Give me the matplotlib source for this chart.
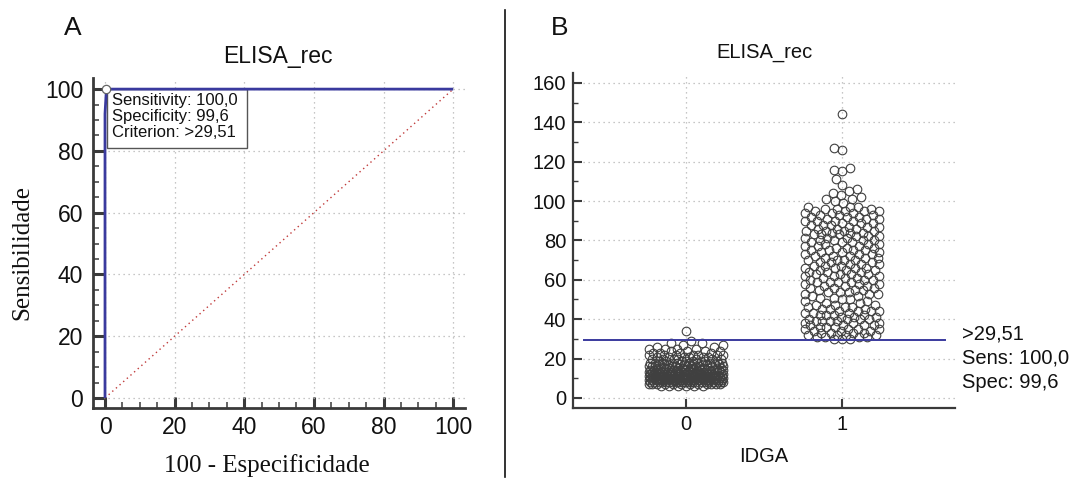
import numpy as np
import matplotlib

matplotlib.use("Agg")
import matplotlib.pyplot as plt
from matplotlib.lines import Line2D
from matplotlib.patches import Rectangle
from matplotlib.ticker import MultipleLocator

W, H = 1083, 479
_INK = "#111111"
_AXIS = "#3a3a3a"
_GRID = "#b4b4b4"
_BLUE = "#3a3a9e"
_RED = "#c03a3a"

# ROC curve (panel A)
roc_fpr = [0.0, 0.0, 0.4, 100.0]
roc_tpr = [0.0, 92.0, 100.0, 100.0]
sensitivity = 100.0
specificity = 99.6
criterion = 29.51

# dot plot (panel B): frequency tables, 1-unit resolution
g0_levels = [6, 7, 8, 9, 10, 11, 12, 13, 14, 15, 16, 17, 18, 19, 20, 21, 22, 23, 24, 25,
             26, 27, 28, 29, 34]
g0_counts = [6, 12, 22, 26, 26, 24, 20, 18, 14, 12, 11, 10, 9, 8, 7, 6, 7, 4, 4, 4,
             2, 2, 2, 1, 1]
g1_levels = list(range(30, 98)) + [99, 100, 101, 102, 103, 104, 105, 106, 108, 111,
                                   115, 116, 117, 126, 127, 144]
g1_counts = [3, 4, 4, 4, 3, 4, 3, 4, 3, 4,   # 30-39
             4, 3, 4, 3, 4, 3, 3, 3, 2, 2,   # 40-49
             2, 2, 2, 3, 3, 3, 3, 3, 3, 4,   # 50-59
             3, 3, 3, 4, 3, 3, 4, 3, 3, 3,   # 60-69
             4, 3, 3, 3, 3, 4, 3, 3, 3, 3,   # 70-79
             4, 3, 3, 3, 3, 4, 3, 3, 3, 3,   # 80-89
             4, 3, 3, 3, 3, 4, 3, 3,         # 90-97
             1, 1, 2, 1, 1, 1, 1, 1, 1, 1,
             1, 1, 1, 1, 1, 1]
groups = ["0", "1"]


def comma(v, nd):
    return f"{v:.{nd}f}".replace(".", ",")


def px(x, y):
    return x / W, 1 - y / H


def swarm_offsets(vals, half_w, diam, sx, sy):
    """Greedy beeswarm: nearest-to-centre free slot, else the slot with most clearance."""
    cand = np.linspace(-half_w, half_w, 81) * sx
    placed_x, placed_y, out = [], [], []
    for v in vals:
        yi = v * sy
        d = np.full(cand.size, np.inf)
        if placed_x:
            ax_ = np.array(placed_x)
            ay_ = np.array(placed_y)
            near = np.abs(ay_ - yi) < diam
            if near.any():
                dx = cand[:, None] - ax_[near][None, :]
                dy = yi - ay_[near]
                d = np.sqrt(dx ** 2 + dy[None, :] ** 2).min(axis=1)
        ok = d >= diam
        if ok.any():
            idx = np.flatnonzero(ok)[np.argmin(np.abs(cand[ok]))]
        else:
            idx = int(np.argmax(d))
        placed_x.append(cand[idx])
        placed_y.append(yi)
        out.append(cand[idx] / sx)
    return np.array(out)


plt.rcParams["font.family"] = ["Liberation Sans", "DejaVu Sans"]
fig = plt.figure(figsize=(W / 100, H / 100), dpi=100)
fig.patch.set_facecolor("white")

# ---------------- panel A ----------------
axa = fig.add_axes([93 / W, 1 - 408 / H, (465 - 93) / W, (408 - 78) / H])
axa.set_xlim(-3.45, 103.4)
axa.set_ylim(-3.24, 103.6)
for side in ("top", "right"):
    axa.spines[side].set_visible(False)
for side in ("left", "bottom"):
    axa.spines[side].set_color(_AXIS)
    axa.spines[side].set_linewidth(2.0)
axa.xaxis.set_major_locator(MultipleLocator(20))
axa.yaxis.set_major_locator(MultipleLocator(20))
axa.xaxis.set_minor_locator(MultipleLocator(5))
axa.yaxis.set_minor_locator(MultipleLocator(5))
axa.tick_params(which="major", direction="in", length=8, width=2.2, color=_AXIS,
                labelsize=16.5, labelcolor=_INK)
axa.tick_params(which="minor", direction="in", length=4.5, width=1.1, color=_AXIS)
axa.tick_params(axis="y", which="major", pad=7)
axa.tick_params(axis="x", which="major", pad=6)
axa.grid(which="major", color=_GRID, linestyle=(0, (1, 3)), linewidth=0.9)
axa.set_axisbelow(True)

axa.plot([0, 100], [0, 100], color=_RED, linestyle=(0, (1, 2.5)), linewidth=1.0, zorder=2)
axa.add_patch(Rectangle((0.6, 80.9), 40.2, 19.1, facecolor="white", edgecolor="#555555",
                        linewidth=1.0, zorder=3))
axa.plot(roc_fpr, roc_tpr, color=_BLUE, linewidth=2.0, zorder=4, solid_capstyle="butt")
axa.plot([roc_fpr[2]], [roc_tpr[2]], "o", markersize=6, markerfacecolor="white",
         markeredgecolor="#666666", markeredgewidth=0.9, zorder=5)
box_txt = (f"Sensitivity: {comma(sensitivity, 1)}\n"
           f"Specificity: {comma(specificity, 1)}\n"
           f"Criterion: >{comma(criterion, 2)}")
axa.text(1.9, 98.9, box_txt, ha="left", va="top", fontsize=12, color=_INK,
         linespacing=1.12, zorder=6)

fig.text(*px(73, 28), "A", ha="center", va="center", fontsize=19, color=_INK)
fig.text(*px(278, 57), "ELISA_rec", ha="center", va="center", fontsize=16.5, color=_INK)
fig.text(*px(267, 466), "100 - Especificidade", ha="center", va="center", fontsize=18,
         family="Liberation Serif", color=_INK)
fig.text(*px(22, 252), "Sensibilidade", ha="center", va="center", rotation=90, fontsize=18,
         family="Liberation Serif", color=_INK)

# ---------------- panel B ----------------
axb = fig.add_axes([573 / W, 1 - 408 / H, (955 - 573) / W, (408 - 73) / H])
axb.set_xlim(-0.724, 1.724)
axb.set_ylim(-5.1, 165)
for side in ("top", "right"):
    axb.spines[side].set_visible(False)
for side in ("left", "bottom"):
    axb.spines[side].set_color(_AXIS)
    axb.spines[side].set_linewidth(1.6)
axb.set_xticks([0, 1])
axb.set_xticklabels(groups)
axb.yaxis.set_major_locator(MultipleLocator(20))
axb.yaxis.set_minor_locator(MultipleLocator(10))
axb.tick_params(which="major", direction="in", length=6.5, width=1.5, color=_AXIS,
                labelsize=14.5, labelcolor=_INK)
axb.tick_params(which="minor", direction="in", length=3.6, width=1.0, color=_AXIS)
axb.tick_params(axis="y", which="major", pad=5)
axb.tick_params(axis="x", which="major", pad=5)
axb.grid(which="major", color=_GRID, linestyle=(0, (1, 3)), linewidth=0.9)
axb.set_axisbelow(True)

pos = axb.get_position()
sx = pos.width * W / (1.724 + 0.724)
sy = pos.height * H / (165 + 5.1)
for i, (lv, ct) in enumerate([(g0_levels, g0_counts), (g1_levels, g1_counts)]):
    vals = np.repeat(np.asarray(lv, dtype=float), ct)
    xo = swarm_offsets(vals, 0.24, 8.0, sx, sy)
    axb.plot(i + xo, vals, "o", markersize=6.2, markerfacecolor="none",
             markeredgecolor="#404040", markeredgewidth=0.8, zorder=3)

axb.plot([-0.654, 1.66], [criterion, criterion], color=_BLUE, linewidth=1.4, zorder=4)

fig.text(*px(560, 28), "B", ha="center", va="center", fontsize=19, color=_INK)
fig.text(*px(764, 53), "ELISA_rec", ha="center", va="center", fontsize=14.5, color=_INK)
fig.text(*px(764, 456), "IDGA", ha="center", va="center", fontsize=14.5, color=_INK)
fig.text(*px(962, 334), f">{comma(criterion, 2)}", ha="left", va="center", fontsize=14.5,
         color=_INK)
fig.text(*px(962, 358), f"Sens: {comma(sensitivity, 1)}", ha="left", va="center",
         fontsize=14.5, color=_INK)
fig.text(*px(962, 383), f"Spec: {comma(specificity, 1)}", ha="left", va="center",
         fontsize=14.5, color=_INK)

# divider between the two panels
fig.add_artist(Line2D([505 / W, 505 / W], [1 - 10 / H, 1 - 477 / H], color="#111111",
                      linewidth=1.2))

fig.savefig("out.png", dpi=100, facecolor="white")
